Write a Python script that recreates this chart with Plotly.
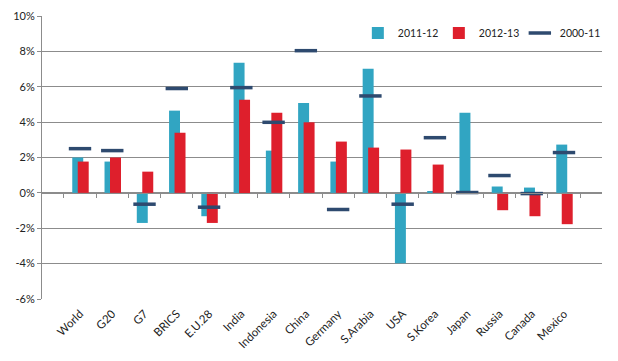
import plotly.graph_objects as go

categories = ["World", "G20", "G7", "BRICS", "E.U.28", "India", "Indonesia", "China",
              "Germany", "S.Arabia", "USA", "S.Korea", "Japan", "Russia", "Canada", "Mexico"]
s_2011_12 = [2.00, 1.77, -1.70, 4.65, -1.32, 7.36, 2.39, 5.08, 1.77, 7.02, -3.98, 0.05, 4.53, 0.36, 0.30, 2.73]
s_2012_13 = [1.77, 2.00, 1.20, 3.40, -1.70, 5.27, 4.53, 3.99, 2.90, 2.56, 2.45, 1.60, 0.00, -0.98, -1.32, -1.77]
s_2000_11 = [2.50, 2.39, -0.64, 5.90, -0.81, 5.95, 3.99, 8.04, -0.94, 5.48, -0.64, 3.12, 0.02, 0.98, -0.04, 2.28]
y_ticks = [-6, -4, -2, 0, 2, 4, 6, 8, 10]
y_tick_labels = ["-6%", "-4%", "-2%", "0%", "2%", "4%", "6%", "8%", "10%"]

CYAN = "#31A5C2"
RED = "#DE1F2C"
NAVY = "#2E4A6F"
GRID = "#8C8C8C"
FONT = "Lato, Open Sans, sans-serif"

fig = go.Figure()
fig.add_trace(go.Bar(x=categories, y=s_2011_12, name="2011-12", marker_color=CYAN,
                     marker_line_width=0, width=0.34, offset=-0.24))
fig.add_trace(go.Bar(x=categories, y=s_2012_13, name="2012-13", marker_color=RED,
                     marker_line_width=0, width=0.34, offset=-0.07))
fig.add_trace(go.Scatter(x=categories, y=s_2000_11, name="2000-11", mode="markers",
                         marker=dict(symbol="line-ew", size=16, line=dict(width=3.5, color=NAVY), color=NAVY)))
# invisible trace for the zero-line category axis
fig.add_trace(go.Scatter(x=categories, y=[None] * len(categories), xaxis="x2",
                         showlegend=False, hoverinfo="skip", mode="markers"))

fig.update_layout(
    width=610, height=353,
    margin=dict(l=34, r=16, t=8, b=62, autoexpand=False),
    plot_bgcolor="white", paper_bgcolor="white",
    barmode="overlay",
    font=dict(family=FONT, size=10, color="#222"),
    showlegend=True,
    legend=dict(orientation="h", x=0.564, y=0.94, xanchor="left", yanchor="middle",
                entrywidth=36, entrywidthmode="pixels", font=dict(size=10.5),
                itemwidth=30, bgcolor="rgba(0,0,0,0)"),
    xaxis=dict(type="category", tickangle=-45, showgrid=False, showline=False,
               ticks="", tickfont=dict(size=11.5), ticklabelstandoff=5, automargin=False),
    xaxis2=dict(type="category", matches="x", overlaying="x", anchor="free", position=0.375,
                side="bottom", showticklabels=False, showline=True, linecolor=GRID, linewidth=1,
                ticks="outside", ticklen=4, tickcolor=GRID, tickson="boundaries", showgrid=False,
                automargin=False),
    yaxis=dict(range=[-6, 10], tickvals=y_ticks, ticktext=y_tick_labels, showgrid=True,
               gridcolor=GRID, gridwidth=1, zeroline=False, showline=True, linecolor=GRID,
               ticks="outside", ticklen=4, tickcolor=GRID, tickfont=dict(size=11),
               automargin=False),
)

fig.write_html("out.html")
